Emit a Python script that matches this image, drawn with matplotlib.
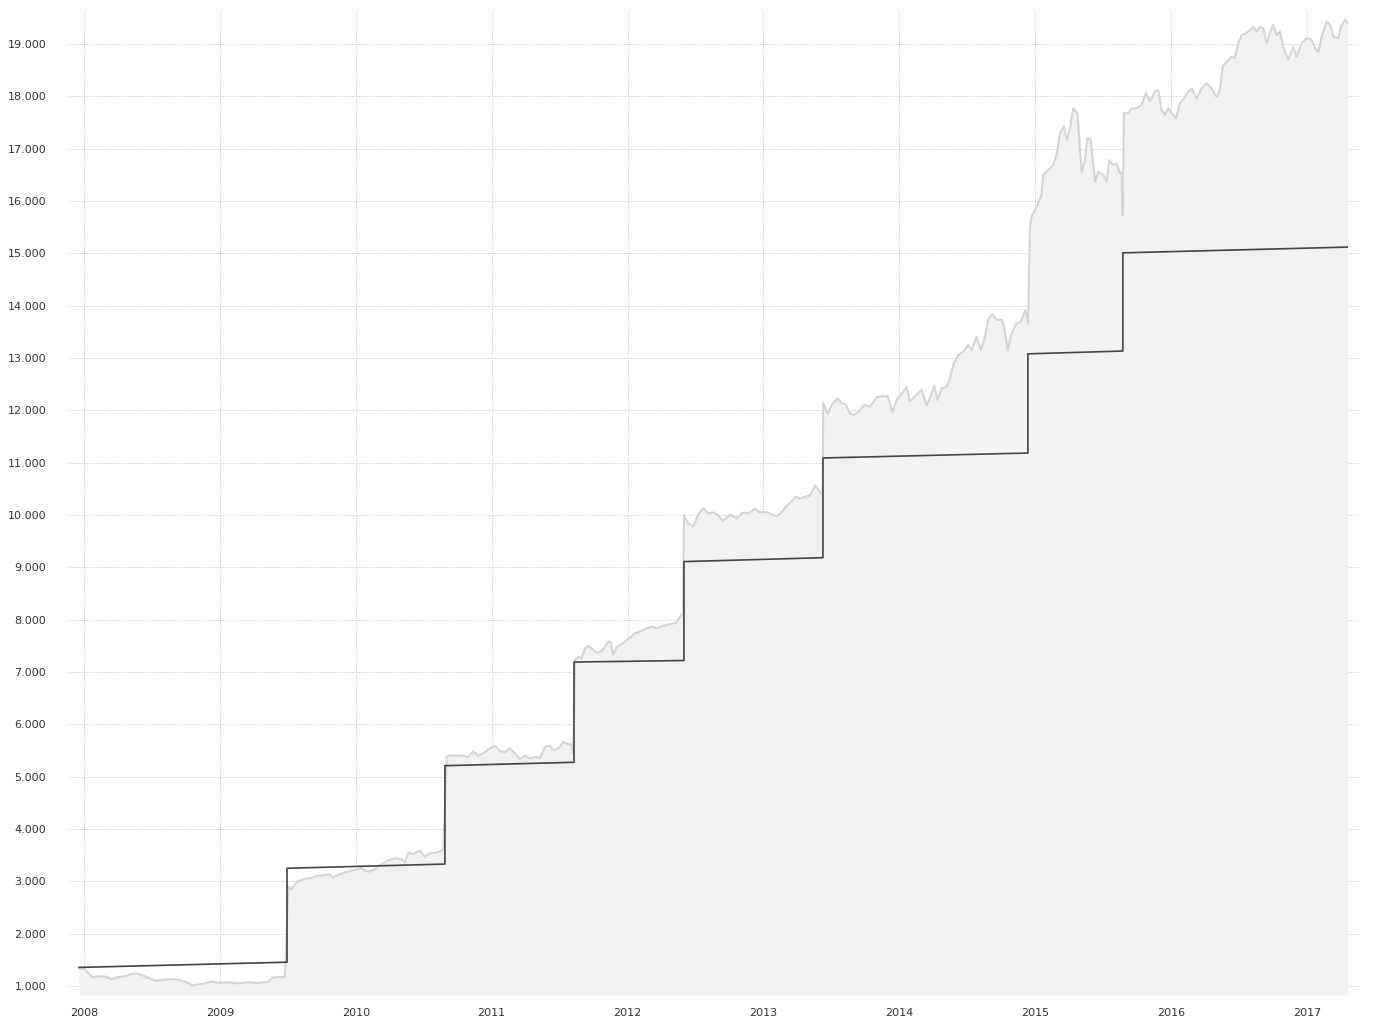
import numpy as np
import matplotlib.pyplot as plt
from matplotlib.ticker import FuncFormatter

# Index value (light grey line), decimal years
index_dates = [
    2007.963, 2008.007, 2008.044, 2008.068, 2008.105, 2008.155, 2008.204, 2008.252, 2008.302, 2008.351,
    2008.388, 2008.425, 2008.461, 2008.522, 2008.572, 2008.620, 2008.670, 2008.719, 2008.767, 2008.792,
    2008.841, 2008.890, 2008.940, 2008.988, 2009.062, 2009.135, 2009.209, 2009.283, 2009.356, 2009.386,
    2009.430, 2009.479,
    2009.503, 2009.528, 2009.565, 2009.614, 2009.663, 2009.712, 2009.761, 2009.810, 2009.834, 2009.884,
    2009.933, 2009.994, 2010.043, 2010.092, 2010.141, 2010.178, 2010.227, 2010.288, 2010.338, 2010.362,
    2010.386, 2010.423, 2010.472, 2010.509, 2010.546, 2010.595, 2010.644,
    2010.669, 2010.693, 2010.742, 2010.791, 2010.828, 2010.865, 2010.901, 2010.951, 2010.987, 2011.024,
    2011.061, 2011.098, 2011.135, 2011.171, 2011.208, 2011.245, 2011.282, 2011.331, 2011.355, 2011.392,
    2011.429, 2011.453, 2011.490, 2011.527, 2011.564, 2011.589, 2011.600,
    2011.613, 2011.637, 2011.662, 2011.687, 2011.711, 2011.736, 2011.760, 2011.784, 2011.821, 2011.858,
    2011.875, 2011.895, 2011.920, 2011.957, 2012.005, 2012.054, 2012.091, 2012.128, 2012.177, 2012.214,
    2012.263, 2012.311, 2012.361, 2012.385, 2012.409,
    2012.415, 2012.446, 2012.483, 2012.520, 2012.557, 2012.594, 2012.631, 2012.667, 2012.704, 2012.753,
    2012.803, 2012.851, 2012.888, 2012.937, 2012.974, 2013.023, 2013.072, 2013.097, 2013.134, 2013.171,
    2013.207, 2013.239, 2013.269, 2013.306, 2013.343, 2013.380, 2013.403, 2013.436,
    2013.440, 2013.472, 2013.502, 2013.546, 2013.575, 2013.605, 2013.637, 2013.668, 2013.698, 2013.742,
    2013.784, 2013.833, 2013.869, 2013.914, 2013.948, 2013.980, 2014.021, 2014.054, 2014.078, 2014.115,
    2014.164, 2014.201, 2014.225, 2014.257, 2014.282, 2014.311, 2014.348, 2014.372, 2014.397, 2014.433,
    2014.470, 2014.507, 2014.532, 2014.569, 2014.600, 2014.630, 2014.654, 2014.683, 2014.716, 2014.753,
    2014.772, 2014.797, 2014.826, 2014.863, 2014.895, 2014.912, 2014.929, 2014.948,
    2014.961, 2014.973, 2015.010, 2015.047, 2015.059, 2015.096, 2015.132, 2015.157, 2015.182, 2015.211,
    2015.231, 2015.256, 2015.280, 2015.310, 2015.342, 2015.366, 2015.383, 2015.408, 2015.440, 2015.464,
    2015.501, 2015.526, 2015.545, 2015.575, 2015.599, 2015.618, 2015.636, 2015.643,
    2015.653, 2015.684, 2015.709, 2015.746, 2015.783, 2015.815, 2015.844, 2015.881, 2015.905, 2015.930,
    2015.955, 2015.979, 2016.004, 2016.035, 2016.065, 2016.101, 2016.126, 2016.151, 2016.187, 2016.224,
    2016.261, 2016.298, 2016.335, 2016.359, 2016.379, 2016.409, 2016.445, 2016.469, 2016.494, 2016.519,
    2016.555, 2016.580, 2016.604, 2016.629, 2016.653, 2016.678, 2016.703, 2016.727, 2016.751, 2016.776,
    2016.801, 2016.825, 2016.862, 2016.899, 2016.924, 2016.961, 2016.998, 2017.035, 2017.059, 2017.083,
    2017.108, 2017.145, 2017.170, 2017.194, 2017.231, 2017.249, 2017.280, 2017.296,
]
index_values = [
    1340, 1320, 1210, 1170, 1190, 1180, 1130, 1170, 1190, 1230,
    1240, 1210, 1170, 1100, 1110, 1130, 1130, 1100, 1060, 1010,
    1030, 1050, 1090, 1060, 1070, 1050, 1070, 1060, 1080, 1160,
    1170, 1180,
    2900, 2850, 2990, 3040, 3060, 3100, 3120, 3130, 3070, 3140,
    3180, 3220, 3250, 3180, 3230, 3310, 3390, 3440, 3420, 3360,
    3550, 3520, 3590, 3470, 3540, 3550, 3600,
    5380, 5410, 5400, 5400, 5370, 5490, 5400, 5470, 5540, 5590,
    5490, 5470, 5540, 5450, 5340, 5400, 5350, 5380, 5350, 5570,
    5590, 5510, 5540, 5660, 5620, 5610, 5450,
    7230, 7290, 7260, 7450, 7500, 7450, 7390, 7360, 7430, 7580,
    7580, 7330, 7480, 7540, 7630, 7740, 7770, 7820, 7870, 7840,
    7880, 7920, 7940, 8060, 8120,
    10000, 9840, 9780, 10010, 10130, 10030, 10050, 9990, 9890, 10010,
    9940, 10050, 10030, 10120, 10050, 10060, 10000, 9970, 10050, 10180,
    10260, 10350, 10310, 10350, 10370, 10570, 10480, 10370,
    12140, 11930, 12100, 12230, 12140, 12120, 11940, 11910, 11970, 12100,
    12070, 12250, 12270, 12270, 11970, 12200, 12330, 12450, 12170, 12270,
    12390, 12100, 12230, 12470, 12200, 12420, 12450, 12610, 12870, 13060,
    13120, 13250, 13150, 13410, 13150, 13410, 13730, 13840, 13730, 13730,
    13600, 13150, 13470, 13660, 13690, 13820, 13920, 13660,
    15510, 15700, 15890, 16120, 16500, 16590, 16690, 16880, 17300, 17430,
    17170, 17390, 17770, 17680, 16560, 16780, 17200, 17170, 16370, 16560,
    16500, 16370, 16780, 16690, 16720, 16560, 16530, 15730,
    17680, 17680, 17770, 17770, 17840, 18060, 17900, 18090, 18120, 17740,
    17650, 17770, 17680, 17580, 17870, 17990, 18090, 18150, 17960, 18150,
    18250, 18150, 17990, 18120, 18570, 18660, 18760, 18730, 19020, 19170,
    19210, 19270, 19330, 19240, 19330, 19300, 19020, 19210, 19370, 19170,
    19240, 18950, 18700, 18950, 18760, 19020, 19110, 19080, 18920, 18850,
    19140, 19430, 19370, 19140, 19110, 19330, 19460, 19410,
]

# Invested capital (dark step line): contribution dates and level at start / end of each period
step_dates = [2007.963, 2009.494, 2010.656, 2011.606, 2012.415, 2013.438, 2014.946, 2015.645, 2017.296]
level_start = [1355, 3250, 5210, 7190, 9110, 11090, 13080, 15010]
level_end = [1455, 3330, 5275, 7220, 9185, 11185, 13134, 15120]

year_ticks = list(range(2008, 2018))
value_ticks = list(range(1000, 20000, 1000))

# build the step path
step_x, step_y = [], []
for i in range(len(level_start)):
    step_x += [step_dates[i], step_dates[i + 1]]
    step_y += [level_start[i], level_end[i]]

fig = plt.figure(figsize=(13.85, 10.24), dpi=100)
ax = fig.add_axes([67 / 1385, 1 - 995 / 1024, (1360 - 67) / 1385, (995 - 10) / 1024])

ymin, ymax = 828, 19651
ax.fill_between(index_dates, index_values, ymin, color='#f2f2f2', linewidth=0, zorder=2)
ax.plot(index_dates, index_values, color='#d4d4d4', linewidth=1.5, zorder=3)
ax.plot(step_x, step_y, color='#444444', linewidth=1.2, zorder=4)

ax.set_xlim(2007.875, 2017.39)
ax.set_ylim(ymin, ymax)
ax.set_xticks(year_ticks)
ax.set_yticks(value_ticks)
ax.yaxis.set_major_formatter(FuncFormatter(lambda v, p: f"{int(v):,}".replace(',', '.')))

ax.grid(True, linestyle=(0, (1, 1.5)), color='#c4c4c4', linewidth=0.7, zorder=0)
ax.set_axisbelow(True)
for s in ax.spines.values():
    s.set_visible(False)
ax.tick_params(axis='both', length=0, labelsize=8, labelcolor='#333333')
ax.tick_params(axis='y', pad=15)
ax.tick_params(axis='x', pad=9)

fig.savefig('out.png', dpi=100, facecolor='white')
